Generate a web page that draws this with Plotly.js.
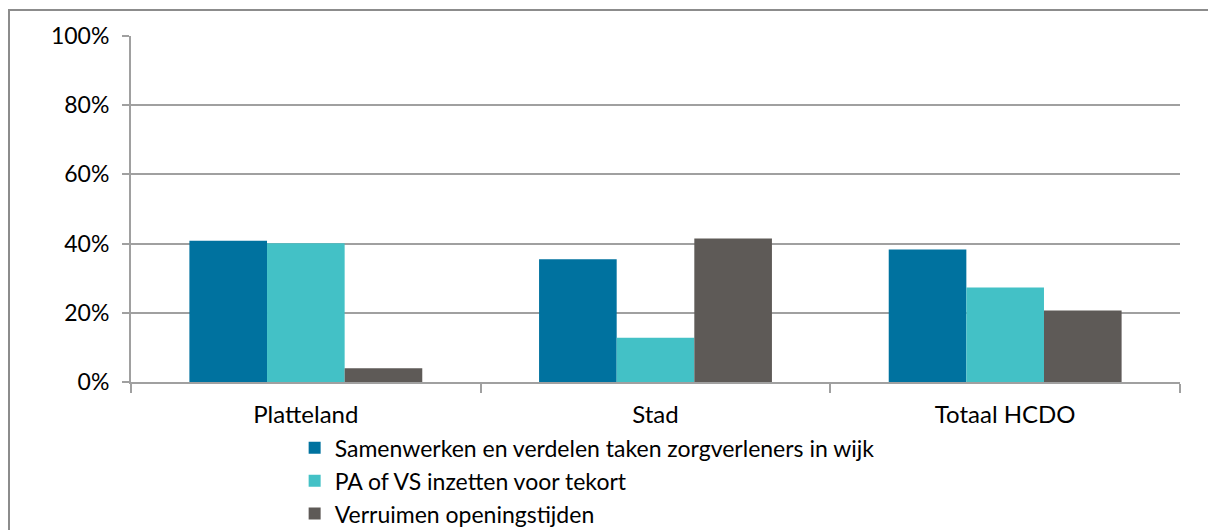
<!DOCTYPE html>
<html>
<head>
<meta charset="utf-8">
<script src="https://cdn.plot.ly/plotly-3.0.1.min.js"></script>
<style>
  html, body { margin: 0; padding: 0; background: #fff; }
  #chart { width: 1208px; height: 530px; }
</style>
</head>
<body>
<div id="chart"></div>
<script>
var regios = ['Platteland', 'Stad', 'Totaal HCDO'];

var samenwerken = [0.408, 0.355, 0.383];
var paVs = [0.401, 0.128, 0.273];
var openingstijden = [0.04, 0.415, 0.207];

var namen = [
    'Samenwerken en verdelen taken zorgverleners in wijk',
    'PA of VS inzetten voor tekort',
    'Verruimen openingstijden'
];
var kleuren = ['#00729f', '#43c1c6', '#5e5a57'];

var series = [samenwerken, paVs, openingstijden];
var traces = series.map(function (vals, i) {
    return {
        type: 'bar',
        x: regios,
        y: vals,
        name: namen[i],
        marker: { color: kleuren[i], line: { width: 0 } },
        hoverinfo: 'x+y'
    };
});

var grijs = '#a0a0a0';
var layout = {
    width: 1208,
    height: 530,
    margin: { l: 131, r: 28, t: 36, b: 148, autoexpand: false },
    paper_bgcolor: '#fff',
    plot_bgcolor: '#fff',
    font: { family: 'Lato, "Liberation Sans", sans-serif', size: 24, color: '#000' },
    barmode: 'group',
    bargap: 0.334,
    bargroupgap: 0,
    showlegend: true,
    legend: {
        x: 0.156, y: -0.128, xanchor: 'left', yanchor: 'top',
        orientation: 'v',
        font: { size: 23 },
        itemwidth: 30,
        tracegroupgap: 0,
        bgcolor: 'rgba(0,0,0,0)'
    },
    xaxis: {
        showline: true, linecolor: grijs, linewidth: 2,
        ticks: 'outside', tickson: 'boundaries', ticklen: 9, tickcolor: grijs, tickwidth: 2,
        ticklabelstandoff: 10,
        showgrid: false, zeroline: false,
        tickfont: { size: 24 }
    },
    yaxis: {
        range: [0, 1],
        tickvals: [0, 0.2, 0.4, 0.6, 0.8, 1],
        tickformat: '.0%',
        showline: true, linecolor: grijs, linewidth: 2,
        ticks: 'outside', ticklen: 7, tickcolor: grijs, tickwidth: 2,
        ticklabelstandoff: 8,
        showgrid: true, gridcolor: grijs, gridwidth: 2,
        zeroline: false,
        tickfont: { size: 23 }
    },
    shapes: [{
        type: 'rect', xref: 'paper', yref: 'paper',
        x0: -0.1163, x1: 1.05, y0: -0.6, y1: 1.075,
        line: { color: '#8c8c8c', width: 2 },
        layer: 'below'
    }]
};

Plotly.newPlot('chart', traces, layout, { displayModeBar: false, staticPlot: true });
</script>
</body>
</html>
